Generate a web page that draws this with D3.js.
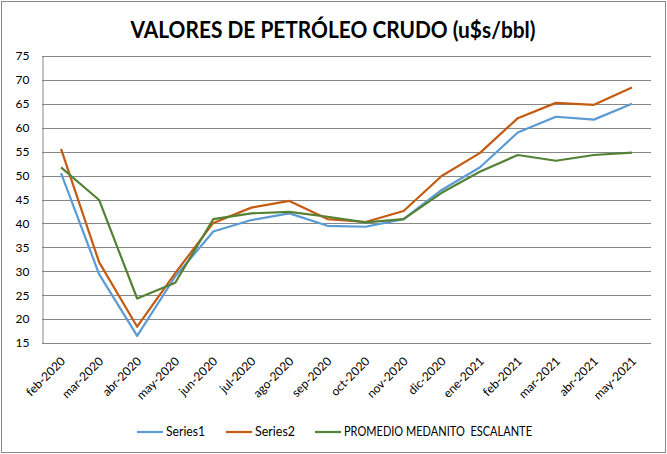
<!DOCTYPE html>
<html>
<head>
<meta charset="utf-8">
<script src="https://cdn.jsdelivr.net/npm/d3@7"></script>
<style>
  body { margin: 0; background: #fff; }
  text { font-family: Lato, "Open Sans", sans-serif; }
</style>
</head>
<body>
<div id="chart"></div>
<script>
// data
var months = ["feb-2020", "mar-2020", "abr-2020", "may-2020", "jun-2020", "jul-2020", "ago-2020", "sep-2020",
              "oct-2020", "nov-2020", "dic-2020", "ene-2021", "feb-2021", "mar-2021", "abr-2021", "may-2021"];
var series1 = [50.5, 29.4, 16.5, 28.9, 38.3, 40.7, 42.1, 39.5, 39.3, 40.9, 47.0, 51.7, 59.0, 62.3, 61.7, 65.0];
var series2 = [55.6, 31.9, 18.4, 29.6, 40.1, 43.3, 44.7, 40.9, 40.3, 42.6, 49.9, 54.7, 62.0, 65.2, 64.8, 68.4];
var promedio = [51.7, 44.9, 24.3, 27.6, 40.9, 42.1, 42.4, 41.4, 40.2, 40.9, 46.4, 50.8, 54.3, 53.1, 54.3, 54.8];
var yTicks = [15, 20, 25, 30, 35, 40, 45, 50, 55, 60, 65, 70, 75];

var seriesList = [
  { name: "Series1", values: series1, color: "#5b9bd5" },
  { name: "Series2", values: series2, color: "#c55a11" },
  { name: "PROMEDIO MEDANITO  ESCALANTE", values: promedio, color: "#548235" }
];

var W = 667, H = 454;
var plotLeft = 42, plotRight = 651, plotTop = 56, plotBottom = 343;

var svg = d3.select("#chart").append("svg")
    .attr("width", W)
    .attr("height", H);

// outer frame
svg.append("rect")
    .attr("x", 1.5).attr("y", 1.5)
    .attr("width", W - 3).attr("height", H - 3)
    .attr("fill", "#fff")
    .attr("stroke", "#888")
    .attr("stroke-width", 1);

svg.append("text")
    .attr("x", 333).attr("y", 38)
    .attr("text-anchor", "middle")
    .attr("font-size", 23)
    .attr("font-weight", "bold")
    .attr("textLength", 405)
    .attr("lengthAdjust", "spacingAndGlyphs")
    .text("VALORES DE PETRÓLEO CRUDO (u$s/bbl)");

var x = d3.scaleBand().domain(months).range([plotLeft, plotRight]);
var y = d3.scaleLinear().domain([15, 75]).range([plotBottom, plotTop]);

// gridlines
svg.append("g").selectAll("line")
    .data(yTicks)
    .enter()
    .append("line")
    .attr("x1", plotLeft).attr("x2", plotRight)
    .attr("y1", function(d) { return Math.round(y(d)) + 0.5; })
    .attr("y2", function(d) { return Math.round(y(d)) + 0.5; })
    .attr("stroke", "#868686")
    .attr("stroke-width", 1);

// y axis
var yAxis = svg.append("g")
    .attr("transform", "translate(" + (plotLeft + 0.5) + ",0)")
    .call(d3.axisLeft(y).tickValues(yTicks).tickSize(0).tickPadding(13));
yAxis.select(".domain").attr("stroke", "#868686");
yAxis.selectAll("text").attr("font-size", 12).attr("fill", "#000");

// x labels
var xAxis = svg.append("g")
    .attr("transform", "translate(0," + plotBottom + ")")
    .call(d3.axisBottom(x).tickSize(0));
xAxis.select(".domain").remove();
xAxis.selectAll("text")
    .attr("font-size", 12)
    .attr("fill", "#000")
    .attr("text-anchor", "end")
    .attr("transform", "translate(2,16) rotate(-45)")
    .attr("dy", "0.35em")
    .attr("y", 0);

var line = d3.line()
    .x(function(d, i) { return x(months[i]) + x.bandwidth() / 2; })
    .y(function(d) { return y(d); });

svg.append("g").selectAll("path")
    .data(seriesList)
    .enter()
    .append("path")
    .attr("d", function(s) { return line(s.values); })
    .attr("fill", "none")
    .attr("stroke", function(s) { return s.color; })
    .attr("stroke-width", 2.2)
    .attr("stroke-linejoin", "round");

// legend
var legendX = [137, 226, 315];
var legendW = [39, 40, 188];
var legend = svg.append("g").selectAll("g")
    .data(seriesList)
    .enter()
    .append("g")
    .attr("transform", function(s, i) { return "translate(" + legendX[i] + ",432)"; });
legend.append("line")
    .attr("x1", 0).attr("x2", 26)
    .attr("stroke", function(s) { return s.color; })
    .attr("stroke-width", 2.2);
legend.append("text")
    .attr("x", 29)
    .attr("dy", "0.35em")
    .attr("font-size", 12.5)
    .style("white-space", "pre")
    .attr("textLength", function(s, i) { return legendW[i]; })
    .attr("lengthAdjust", "spacingAndGlyphs")
    .text(function(s) { return s.name; });
</script>
</body>
</html>
